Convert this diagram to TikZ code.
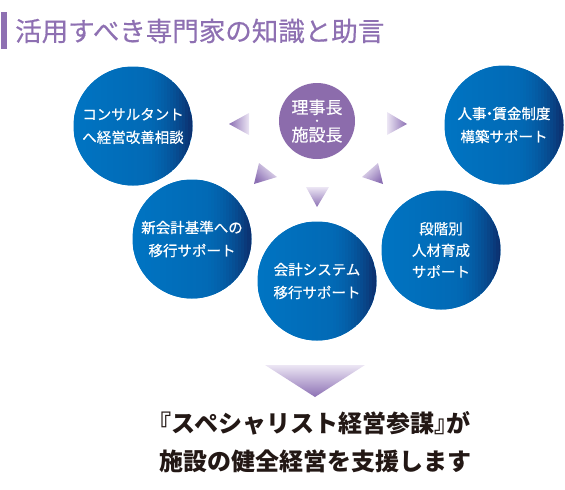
\documentclass[tikz,border=0pt]{standalone}
\usepackage{fontspec}
\usepackage{tikz}
\usetikzlibrary{positioning}

\newfontfamily\jp[FakeBold=0.5]{Noto Sans CJK JP}
\newfontfamily\jpb{Noto Sans CJK JP}

\definecolor{titlepurple}{RGB}{142,112,178}
\definecolor{chairpurple}{RGB}{140,108,172}
\definecolor{tridark}{RGB}{140,112,180}
\definecolor{trilight}{RGB}{236,230,244}
\definecolor{bottomtext}{RGB}{35,24,21}
\definecolor{blueA}{RGB}{0,116,194}
\definecolor{blueD}{RGB}{12,46,108}

\tikzset{
  circ/.style={circle, minimum size=119pt, inner sep=0pt, fill=blueA,
    path picture={
      \foreach \i in {0,...,39} {
        \pgfmathsetmacro\mix{0.6*min(\i,21)+88*(max(0,\i-21)/18)*(max(0,\i-21)/18)}
        \fill [blueD!\mix!blueA]
          ([xshift=\i*3pt]path picture bounding box.south west) rectangle
          ([xshift=\i*3pt+3.6pt]path picture bounding box.north west);
      }
    },
    text=white, align=center, font=\jp\fontsize{14.5}{23}\selectfont},
  tri/.style={top color=trilight, bottom color=tridark}
}

\begin{document}
\begin{tikzpicture}[x=1pt, y=-1pt]
    \useasboundingbox (0,0) rectangle (565,490);

    % Title
    \fill [titlepurple] (1,12) rectangle (7,49);
    \node [anchor=west, text=titlepurple, inner sep=0pt, font=\jp\fontsize{26.5}{30}\selectfont] (title) at (15,31) {活用すべき専門家の知識と助言};

    % Center
    \node [circle, minimum size=76pt, inner sep=0pt, fill=chairpurple, text=white, align=center,
      font=\jp\fontsize{17}{22}\selectfont] (chair) at (317,121)
      {理事長\\[-11.2pt]{\fontsize{10}{12}\selectfont ・}\\[-5.3pt]施設長};

    % Experts
    \node [circ] (consult) at (133,126) {コンサルタント\\へ経営改善相談};
    \node [circ] (hr) at (504,125) {人事\makebox[6pt]{・}賃金制度\\構築サポート};
    \node [circ] (newacc) at (192,239) {新会計基準への\\移行サポート};
    \node [circ] (sys) at (317,281) {会計システム\\移行サポート};
    \node [circ, font=\jp\fontsize{14.5}{21.5}\selectfont] (staff) at (441,250) {段階別\\人材育成\\サポート};

    % Small arrows from center
    \shade [tri, shading angle=-90] (229,124) -- (249,113) -- (249,135) -- cycle;
    \shade [tri, shading angle=90] (407,124) -- (387,112) -- (387,135) -- cycle;
    \shade [tri, shading angle=-45] (254,184) -- (259,163) -- (277,177) -- cycle;
    \shade [tri] (306,187) -- (329,187) -- (317,207) -- cycle;
    \shade [tri, shading angle=45] (383,184) -- (378,163) -- (362,177) -- cycle;

    % Big arrow
    \shade [tri] (265,365) -- (365,365) -- (315,397) -- cycle;
    \coordinate (bigtip) at (315,397);

    % Result
    \node [below=11pt of bigtip, text=bottomtext, align=center,
      font=\jpb\bfseries\fontsize{24}{38}\selectfont] (result)
      {\makebox[12pt][r]{『}スペシャリスト経営参謀\makebox[12pt][l]{』}が\\施設の健全経営を支援します};
\end{tikzpicture}
\end{document}
